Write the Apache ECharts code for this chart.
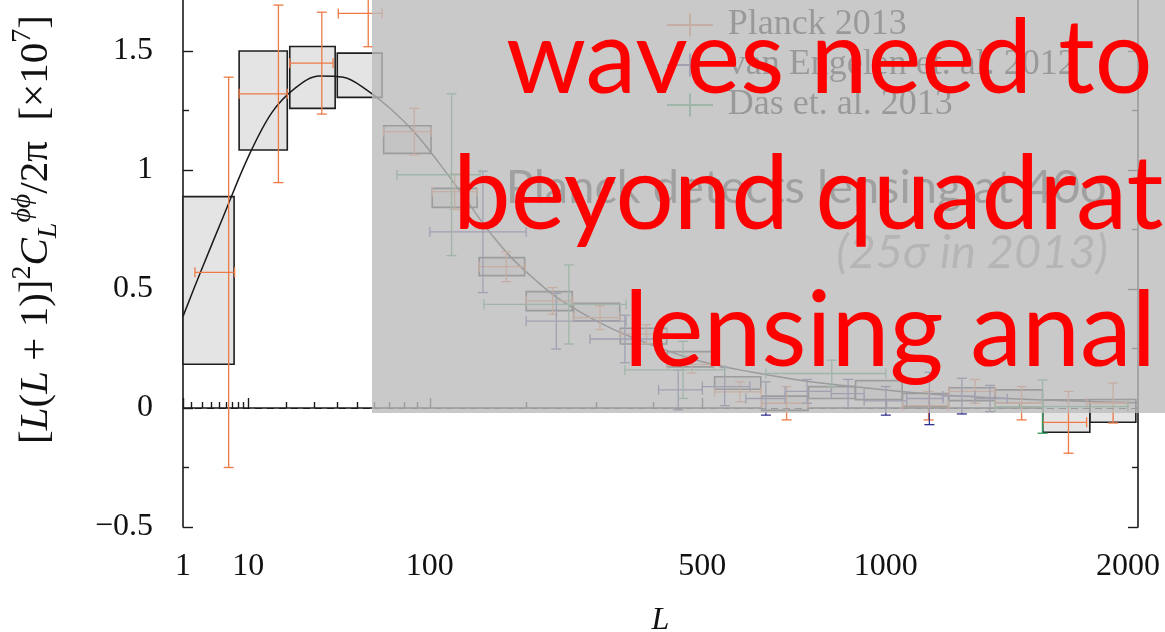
<!DOCTYPE html>
<html>
<head>
<meta charset="utf-8">
<script src="https://cdn.jsdelivr.net/npm/echarts@6/dist/echarts.min.js"></script>
<style>
  html, body { margin: 0; padding: 0; background: #ffffff; }
  #chart { width: 1165px; height: 632px; }
</style>
</head>
<body>
<div id="chart"></div>
<script>
// Horizontal axis is linear in L^0.4
const POW = 0.4;
const tx = L => Math.pow(L, POW);
const xMinL = 1.406;
const xMaxL = 2051;

// Axis ticks
const tickLabelL = [1, 10, 100, 500, 1000, 2000];
const tickLabelText = ['1', '10', '100', '500', '1000', '2000'];
const minorTickL = [2, 3, 4, 5, 6, 7, 8, 9, 20, 30, 40, 50, 60, 70, 80, 90, 200, 300, 400, 750, 1500];

// Planck 2015 lensing bandpowers (boxes: bin range x value ± error)
const p15Lo  = [1.406, 8.2, 21, 40, 66, 102, 146, 200, 265, 340, 427, 527, 639, 764, 903, 1056, 1221, 1401, 1601, 1816];
const p15Hi  = [7.3, 20.2, 39, 65, 101, 144, 198, 263, 339, 426, 524, 637, 763, 902, 1055, 1220, 1400, 1600, 1815, 2040];
const p15Val = [0.536, 1.292, 1.389, 1.398, 1.128, 0.883, 0.594, 0.449, 0.403, 0.302, 0.205, 0.105, 0.020, 0.065, 0.075, 0.033, 0.058, 0.048, -0.034, -0.012];
const p15Err = [0.352, 0.208, 0.130, 0.093, 0.058, 0.040, 0.038, 0.040, 0.037, 0.033, 0.032, 0.026, 0.030, 0.025, 0.040, 0.028, 0.027, 0.028, 0.068, 0.048];

// Fiducial LCDM lensing potential spectrum
const theoryL   = [1.406, 2.76, 5.66, 9.88, 15.6, 22.9, 32, 43, 55.9, 70.9, 88.2, 107.7, 129.6, 154, 181, 211, 243, 316, 400, 498, 610, 736, 874, 1024, 1189, 1368, 1573, 1789, 2051];
const theoryVal = [0.385, 0.565, 0.81, 1.05, 1.24, 1.345, 1.395, 1.39, 1.335, 1.255, 1.155, 1.03, 0.895, 0.755, 0.635, 0.54, 0.46, 0.345, 0.262, 0.195, 0.152, 0.118, 0.093, 0.072, 0.056, 0.044, 0.035, 0.028, 0.022];

// Planck 2013
const p13L   = [6.4, 17.5, 33, 56.5, 87.6, 122, 176, 235, 306, 387, 477, 586, 704, 1147, 1321, 1510, 1716, 1927];
const p13Lo  = [2.3, 8.2, 21, 40.5, 66, 102, 146, 200, 265, 340, 427, 527, 639, 1056, 1221, 1401, 1601, 1801];
const p13Hi  = [7.4, 20.2, 38, 65, 101, 144, 199, 264, 339, 426, 526, 638, 763, 1220, 1400, 1600, 1800, 2000];
const p13Val = [0.57, 1.32, 1.449, 1.658, 1.161, 0.909, 0.594, 0.45, 0.38, 0.31, 0.183, 0.068, 0.02, 0.01, 0.07, 0.02, -0.06, 0.021];
const p13Err = [0.82, 0.373, 0.214, 0.14, 0.098, 0.075, 0.063, 0.056, 0.05, 0.04, 0.036, 0.042, 0.07, 0.06, 0.05, 0.07, 0.13, 0.084];

// van Engelen et al. 2012 (SPT)
const sptL   = [150, 240, 348, 449, 550, 650, 760, 880, 1000, 1150, 1270, 1380];
const sptLo  = [100, 200, 290, 410, 500, 600, 700, 830, 930, 1070, 1200, 1320];
const sptHi  = [200, 350, 410, 500, 610, 700, 830, 930, 1070, 1200, 1320, 1450];
const sptVal = [0.74, 0.365, 0.29, 0.076, 0.09, 0.04, 0.07, 0.06, 0.03, 0.04, 0.05, 0.04];
const sptErr = [0.255, 0.117, 0.10, 0.084, 0.08, 0.07, 0.05, 0.06, 0.06, 0.11, 0.075, 0.055];

// Das et al. 2013 (ACT)
const actL   = [119, 258, 459, 831, 1600];
const actLo  = [75, 151, 348, 650, 1400];
const actHi  = [147, 350, 550, 1000, 2000];
const actVal = [0.98, 0.435, 0.16, 0.145, 0.006];
const actErr = [0.34, 0.166, 0.12, 0.056, 0.112];

const COLOR_P13 = '#ee7a45';
const COLOR_SPT = '#34348e';
const COLOR_ACT = '#2e9a5c';

const clampL = L => Math.min(Math.max(L, xMinL), xMaxL);
const labelPos = tickLabelL.map(L => tx(clampL(L)));

function errData(Ls, lo, hi, val, err) {
  return Ls.map((L, i) => [tx(L), tx(lo[i]), tx(hi[i]), val[i], err[i]]);
}

function seg(x1, y1, x2, y2, color) {
  return { type: 'line', shape: { x1, y1, x2, y2 }, style: { stroke: color, lineWidth: 1.3 } };
}

function errItem(params, api) {
  const color = api.visual('color');
  const L = api.value(0), lo = api.value(1), hi = api.value(2), v = api.value(3), e = api.value(4);
  const c = api.coord([L, v]);
  const top = api.coord([L, v + e]);
  const bot = api.coord([L, v - e]);
  const left = api.coord([lo, v]);
  const right = api.coord([hi, v]);
  const cap = 5;
  return {
    type: 'group',
    children: [
      seg(left[0], c[1], right[0], c[1], color),
      seg(c[0], top[1], c[0], bot[1], color),
      seg(c[0] - cap, top[1], c[0] + cap, top[1], color),
      seg(c[0] - cap, bot[1], c[0] + cap, bot[1], color),
      seg(left[0], c[1] - cap, left[0], c[1] + cap, color),
      seg(right[0], c[1] - cap, right[0], c[1] + cap, color)
    ]
  };
}

function boxItem(params, api) {
  const a = api.coord([api.value(0), api.value(2) + api.value(3)]);
  const b = api.coord([api.value(1), api.value(2) - api.value(3)]);
  return {
    type: 'rect',
    shape: { x: a[0], y: a[1], width: b[0] - a[0], height: b[1] - a[1] },
    style: { fill: '#e4e4e4', stroke: '#1e1e1e', lineWidth: 1.6 }
  };
}

// legend marker: a thin cross, with empty room on the right as a gap before the text
const crossIcon = 'path://M0,11H48V13H0Z M23,0H25V24H23Z M57,12H57.01V12.01H57Z';

const serifFont = 'Liberation Serif';
const axisCommon = {
  min: -0.5, max: 2, interval: 0.5,
  splitLine: { show: false },
  axisLine: { show: true, lineStyle: { color: '#1a1a1a', width: 1.6 } },
  axisTick: { show: true, inside: true, length: 10, lineStyle: { color: '#1a1a1a', width: 1.4 } },
  minorTick: { show: true, splitNumber: 2, length: 6, lineStyle: { color: '#1a1a1a', width: 1.4 } }
};

const chart = echarts.init(document.getElementById('chart'), null, { renderer: 'canvas' });
chart.setOption({
  animation: false,
  backgroundColor: '#ffffff',
  grid: { left: 183, right: 27, top: -68, bottom: 105, containLabel: false, outerBoundsMode: 'none' },
  legend: {
    orient: 'vertical',
    left: 662, top: 2,
    itemWidth: 57, itemHeight: 23, itemGap: 4,
    textStyle: { fontFamily: serifFont, fontSize: 36, color: '#111' },
    data: [
      { name: 'Planck 2013', icon: crossIcon },
      { name: 'van Engelen et. al. 2012', icon: crossIcon },
      { name: 'Das et. al. 2013', icon: crossIcon }
    ],
    z: 4
  },
  xAxis: [
    {
      type: 'value', position: 'bottom',
      min: tx(xMinL), max: tx(xMaxL),
      splitLine: { show: false },
      axisLine: { show: true, lineStyle: { color: '#1a1a1a', width: 1.6 } },
      axisTick: {
        show: true, inside: true, length: 10,
        customValues: labelPos,
        lineStyle: { color: '#1a1a1a', width: 1.4 }
      },
      axisLabel: {
        show: true, margin: 24,
        customValues: labelPos,
        fontFamily: serifFont, fontSize: 32, color: '#111',
        formatter: v => {
          let best = 0;
          labelPos.forEach((p, i) => { if (Math.abs(p - v) < Math.abs(labelPos[best] - v)) best = i; });
          return tickLabelText[best];
        }
      },
      name: 'L', nameLocation: 'middle', nameGap: 78,
      nameTextStyle: { fontFamily: serifFont, fontStyle: 'italic', fontSize: 32, color: '#111' }
    },
    {
      type: 'value', position: 'bottom',
      min: tx(xMinL), max: tx(xMaxL),
      splitLine: { show: false },
      axisLine: { show: false },
      axisTick: {
        show: true, inside: true, length: 6,
        customValues: minorTickL.map(tx),
        lineStyle: { color: '#1a1a1a', width: 1.4 }
      },
      axisLabel: { show: false }
    }
  ],
  yAxis: [
    Object.assign({}, axisCommon, {
      type: 'value', position: 'left',
      axisLabel: {
        margin: 30, fontFamily: serifFont, fontSize: 32, color: '#111',
        formatter: v => String(v).replace('-', '\u2212')
      },
      name: '{t|[}{i|L}{t|(}{i|L}{t| + 1)]}{sp|2}{i|C}{sb|L}{spi|ϕϕ}{t|/2π  [×10}{sp|7}{t|]}',
      nameLocation: 'middle', nameRotate: 90, nameGap: 120,
      nameTextStyle: {
        fontFamily: serifFont, fontSize: 41, color: '#111',
        rich: {
          t:   { fontFamily: serifFont, fontSize: 41, color: '#111', lineHeight: 54 },
          i:   { fontFamily: serifFont, fontSize: 41, fontStyle: 'italic', color: '#111', lineHeight: 54 },
          sp:  { fontFamily: serifFont, fontSize: 28, color: '#111', verticalAlign: 'top', lineHeight: 54 },
          spi: { fontFamily: serifFont, fontSize: 28, fontStyle: 'italic', color: '#111', verticalAlign: 'top', lineHeight: 54 },
          sb:  { fontFamily: serifFont, fontSize: 28, fontStyle: 'italic', color: '#111', verticalAlign: 'bottom', lineHeight: 54 }
        }
      }
    }),
    Object.assign({}, axisCommon, {
      type: 'value', position: 'right',
      axisLabel: { show: false }
    })
  ],
  series: [
    {
      name: 'Planck 2015',
      type: 'custom',
      renderItem: boxItem,
      encode: { x: [0, 1], y: 2 },
      data: p15Lo.map((lo, i) => [tx(lo), tx(p15Hi[i]), p15Val[i], p15Err[i]]),
      z: 1
    },
    {
      name: 'Theory',
      type: 'line',
      data: theoryL.map((L, i) => [tx(L), theoryVal[i]]),
      showSymbol: false,
      smooth: 0.35,
      lineStyle: { color: '#1a1a1a', width: 1.5 },
      z: 3,
      markLine: {
        silent: true,
        symbol: ['none', 'none'],
        label: { show: false },
        lineStyle: { color: '#1a1a1a', width: 1.2, type: [7, 5] },
        data: [{ yAxis: 0 }]
      }
    },
    {
      name: 'Planck 2013', type: 'custom', renderItem: errItem,
      itemStyle: { color: COLOR_P13 },
      encode: { x: [0, 1, 2], y: [3] },
      data: errData(p13L, p13Lo, p13Hi, p13Val, p13Err), z: 4
    },
    {
      name: 'van Engelen et. al. 2012', type: 'custom', renderItem: errItem,
      itemStyle: { color: COLOR_SPT },
      encode: { x: [0, 1, 2], y: [3] },
      data: errData(sptL, sptLo, sptHi, sptVal, sptErr), z: 4
    },
    {
      name: 'Das et. al. 2013', type: 'custom', renderItem: errItem,
      itemStyle: { color: COLOR_ACT },
      encode: { x: [0, 1, 2], y: [3] },
      data: errData(actL, actLo, actHi, actVal, actErr), z: 4
    }
  ],
  graphic: [
    {
      type: 'text', x: 1108, y: 211, z: 50,
      style: { text: 'Planck detects lensing at 40σ', font: '47px Lato', fill: '#333', align: 'right', verticalAlign: 'bottom' }
    },
    {
      type: 'text', x: 1108, y: 276, z: 50,
      style: { text: '(25σ in 2013)', font: 'italic 47px Lato', fill: '#999', align: 'right', verticalAlign: 'bottom' }
    },
    {
      type: 'rect', z: 100,
      shape: { x: 372, y: 0, width: 793, height: 413 },
      style: { fill: 'rgba(187,187,187,0.8)' }
    },
    {
      type: 'text', x: 506, y: 111, z: 110,
      style: { text: 'waves need to', font: '102px Lato', fill: '#ff0000', align: 'left', verticalAlign: 'bottom' }
    },
    {
      type: 'text', x: 453, y: 247, z: 110,
      style: { text: 'beyond quadrat', font: '103px Lato', fill: '#ff0000', align: 'left', verticalAlign: 'bottom' }
    },
    {
      type: 'text', x: 624, y: 384, z: 110,
      style: { text: 'lensing anal', font: '104px Lato', fill: '#ff0000', align: 'left', verticalAlign: 'bottom' }
    }
  ]
});
</script>
</body>
</html>
